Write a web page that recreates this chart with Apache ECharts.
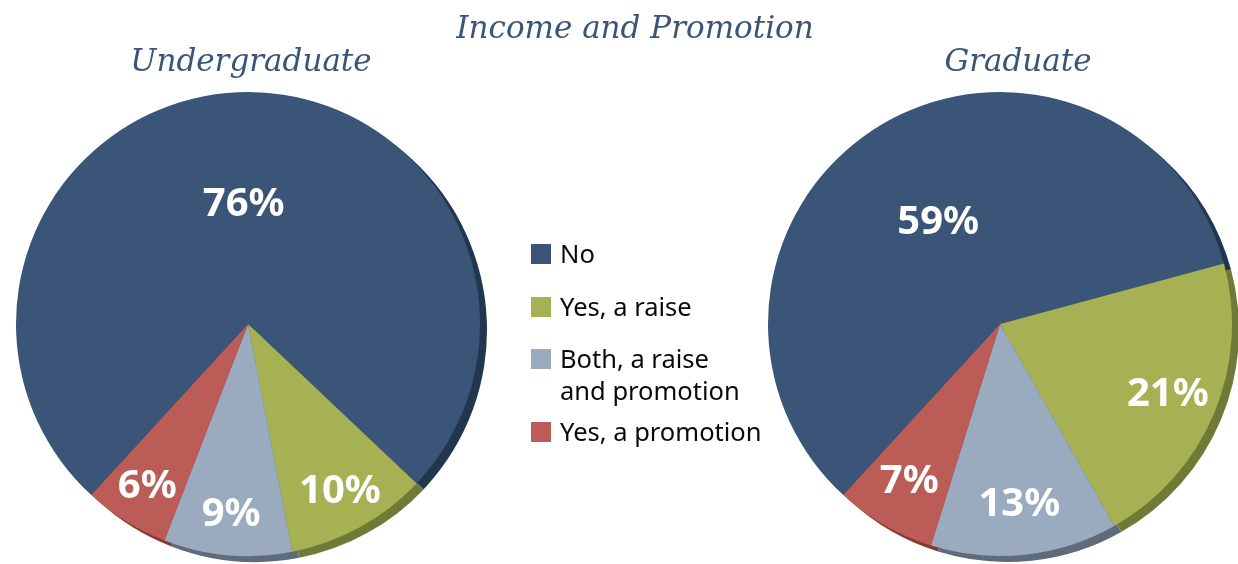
<!DOCTYPE html>
<html>
<head>
<meta charset="utf-8">
<script src="https://cdn.jsdelivr.net/npm/echarts@6/dist/echarts.min.js"></script>
<style>
  html, body { margin: 0; padding: 0; background: #fff; }
  #chart { width: 1238px; height: 564px; }
</style>
</head>
<body>
<div id="chart"></div>
<script>
// data
var categories = ['No', 'Yes, a raise', 'Both, a raise\nand promotion', 'Yes, a promotion'];
var undergrad = [76, 10, 9, 6];
var graduate = [59, 21, 13, 7];
var pieTitles = ['Undergraduate', 'Graduate'];

// colours: face and darker rim
var faceColors = ['#3a5577', '#a6b153', '#9aaabf', '#bb5d56'];
var rimColors = ['#22364f', '#6f7a37', '#5f6b7b', '#8a3832'];

var R = 232;
var centers = [[248, 324], [1000, 324]];
// inner radius of the label ring used for the small slices
var labelRing = [144, 126];

function makeData(values, colors, labelFor) {
    return values.map(function (v, i) {
        return {
            name: categories[i],
            value: v,
            itemStyle: { color: colors[i] },
            label: { show: labelFor(i) }
        };
    });
}

var labelStyle = {
    position: 'inside',
    formatter: '{c}%',
    color: '#fff',
    fontFamily: 'Noto Sans',
    fontWeight: 'bold',
    fontSize: 40
};

function pieSeries(values, c, ring) {
    var base = {
        type: 'pie',
        startAngle: 227.5,
        clockwise: true,
        silent: true,
        animation: false,
        labelLine: { show: false },
        emphasis: { disabled: true }
    };
    // rim (depth), drawn slightly offset behind the face
    var rim = Object.assign({}, base, {
        z: 1,
        center: [c[0] + 7, c[1] + 6],
        radius: [0, R],
        label: { show: false },
        data: makeData(values, rimColors, function () { return false; })
    });
    // face, label only on the big slice
    var face = Object.assign({}, base, {
        z: 2,
        center: c,
        radius: [0, R],
        label: labelStyle,
        data: makeData(values, faceColors, function (i) { return i === 0; })
    });
    // transparent overlay to push small slice labels outward
    var over = Object.assign({}, base, {
        z: 3,
        center: c,
        radius: [ring, R],
        label: labelStyle,
        data: makeData(values, ['rgba(0,0,0,0)', 'rgba(0,0,0,0)', 'rgba(0,0,0,0)', 'rgba(0,0,0,0)'],
            function (i) { return i !== 0; })
    });
    return [rim, face, over];
}

// legend drawn as graphic so the two-line entry aligns like the original
var legendTops = [244, 297, 349, 422];
var legendItems = [];
categories.forEach(function (name, i) {
    legendItems.push({
        type: 'rect',
        shape: { x: 531, y: legendTops[i], width: 20, height: 20 },
        style: { fill: faceColors[i] }
    });
    legendItems.push({
        type: 'text',
        x: 560,
        y: legendTops[i] + 12 - 16,
        style: {
            text: name,
            fill: '#0a0a0a',
            fontFamily: 'Noto Sans',
            fontSize: 25.5,
            lineHeight: 32,
            align: 'left',
            verticalAlign: 'top'
        }
    });
});

var titleFont = { fill: '#3a5577', fontFamily: 'DejaVu Serif', fontStyle: 'italic', fontSize: 31, align: 'center', verticalAlign: 'middle' };

var chart = echarts.init(document.getElementById('chart'));
var option = {
    backgroundColor: '#fff',
    graphic: [
        { type: 'text', x: 635, y: 30, style: Object.assign({ text: 'Income and Promotion' }, titleFont) },
        { type: 'text', x: 251, y: 63, style: Object.assign({ text: pieTitles[0] }, titleFont) },
        { type: 'text', x: 1018, y: 63, style: Object.assign({ text: pieTitles[1] }, titleFont) }
    ].concat(legendItems),
    series: pieSeries(undergrad, centers[0], labelRing[0]).concat(pieSeries(graduate, centers[1], labelRing[1]))
};
chart.setOption(option);
</script>
</body>
</html>
